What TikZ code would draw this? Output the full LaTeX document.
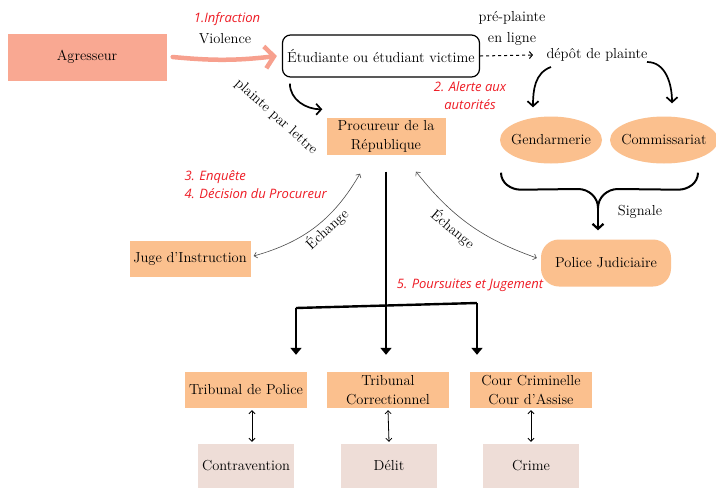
\documentclass[tikz,border=0pt]{standalone}
\usepackage{fontspec}
\newfontfamily\redfont{Open Sans}
\usetikzlibrary{arrows.meta,shapes.geometric,positioning,calc}
\definecolor{agrcol}{HTML}{F9A892}
\definecolor{orangebox}{HTML}{FBC08E}
\definecolor{pinkbox}{HTML}{EEDDD7}
\definecolor{redlabel}{HTML}{EE1C25}
\definecolor{salmonarrow}{HTML}{F7A08E}

\begin{document}
\begin{tikzpicture}[x=1pt,y=1pt,
  txt/.style={font=\fontsize{14.5}{19}\selectfont, align=center},
  redtxt/.style={font=\redfont\itshape\fontsize{13}{18}\selectfont, text=redlabel},
  orbox/.style={txt, fill=orangebox, inner sep=1pt, minimum height=37pt},
  pkbox/.style={txt, fill=pinkbox, minimum width=96pt, minimum height=44pt},
  oval/.style={txt, ellipse, fill=orangebox, inner xsep=-7pt, inner ysep=0pt, minimum height=47pt},
  thickarr/.style={line width=1.7pt, -{Straight Barb[length=5pt,width=11pt]}},
  courtarr/.style={line width=2.4pt, -{Triangle[length=7pt,width=11pt]}},
  echarr/.style={draw=black!70, line width=0.6pt, {Straight Barb[length=3pt,width=6pt]}-{Straight Barb[length=3pt,width=6pt]}},
  linkarr/.style={line width=0.8pt, {Straight Barb[length=3pt,width=6pt]}-{Straight Barb[length=3pt,width=6pt]}}]
  \useasboundingbox[fill=white] (0,0) rectangle (716,-488);

  % actors
  \node[txt, fill=agrcol, minimum width=159pt, minimum height=47pt] (agr) at (87,-57) {Agresseur};
  \node[txt, draw, line width=1.2pt, rounded corners=8pt, inner xsep=3pt, minimum width=197pt, minimum height=42pt] (vict) at (381,-56) {Étudiante ou étudiant victime};
  \node[txt] (depot) at (597,-55) {dépôt de plainte};
  \node[orbox, minimum width=119pt] (proc) at (386,-136) {Procureur de la\\République};
  \node[oval, minimum width=102pt] (gend) at (551,-140) {Gendarmerie};
  \node[oval, minimum width=108pt] (comm) at (664,-140) {Commissariat};
  \node[txt, fill=orangebox, rounded corners=18pt, minimum width=130pt, minimum height=47pt] (pj) at (606,-263) {Police Judiciaire};
  \node[orbox, minimum width=121pt, minimum height=36pt] (juge) at (190,-259) {Juge d'Instruction};

  % tribunaux
  \node[orbox, minimum width=122pt, minimum height=36pt] (tpol) at (246,-390) {Tribunal de Police};
  \node[orbox, minimum width=122pt, minimum height=36pt] (tcor) at (388,-390) {Tribunal\\Correctionnel};
  \node[orbox, minimum width=122pt, minimum height=36pt] (ccrim) at (531,-390) {Cour Criminelle\\Cour d'Assise};
  \node[pkbox] (contr) at (246,-466) {Contravention};
  \node[pkbox] (delit) at (389,-466) {Délit};
  \node[pkbox] (crime) at (531,-466) {Crime};

  % labels
  \node[redtxt] (inf) at (227,-19) {1.Infraction};
  \node[txt] (viol) at (225,-39) {Violence};
  \node[txt, font=\fontsize{14.5}{21}\selectfont] (pre) at (512,-28) {pré-plainte\\en ligne};
  \node[redtxt, align=center] (alerte) at (470,-96) {2. Alerte aux\\autorités};
  \node[txt, rotate=-42, inner sep=0pt] (lettre) at (276,-117) {plainte par lettre};
  \node[redtxt, align=left, anchor=west] (enq) at (181,-185) {3. Enquête\\4. Décision du Procureur};
  \node[redtxt] (pours) at (470,-285) {5. Poursuites et Jugement};
  \node[txt] (signale) at (640,-212) {Signale};
  \node[txt, rotate=43, inner sep=0pt] (ech1) at (327,-229) {Échange};
  \node[txt, rotate=-40, inner sep=0pt] (ech2) at (453,-229) {Échange};

  % connectors
  \draw[salmonarrow, line width=4.5pt, line cap=round, -{Straight Barb[length=9pt,width=22pt]}] ([xshift=6pt]agr.east) to[bend right=6] ([xshift=-5pt]vict.west);
  \draw[dashed, line width=1pt, -{Straight Barb[length=3pt,width=7pt]}] (vict.east) -- ([xshift=-10pt]depot.west);
  \draw[thickarr] ([xshift=8pt,yshift=-6pt]vict.south west) to[out=-90,in=180] ([xshift=-4pt,yshift=8pt]proc.north west);
  \draw[thickarr] ([xshift=8pt,yshift=-2pt]depot.south west) to[out=200,in=90] ([xshift=-18pt,yshift=9pt]gend.north);
  \draw[thickarr] ([xshift=-4pt,yshift=3pt]depot.south east) to[out=0,in=90] ([xshift=8pt,yshift=13pt]comm.north);

  \coordinate (brace) at (598,-208);
  \draw[line width=2pt] ([xshift=-50pt,yshift=-9pt]gend.south) to[out=-90,in=180] ++(20,-17) -- (578,-189) to[out=0,in=90] (brace);
  \draw[line width=2pt] ([xshift=34pt,yshift=-9pt]comm.south) to[out=-90,in=0] ++(-20,-17) -- (618,-189) to[out=180,in=90] (brace);
  \draw[thickarr, line width=2.2pt] (brace) -- ([xshift=-8pt,yshift=9pt]pj.north);

  \draw[echarr] ([xshift=3pt,yshift=3pt]juge.east) to[bend right=22] ([xshift=-26pt,yshift=-19pt]proc.south);
  \draw[echarr] ([xshift=30pt,yshift=-17pt]proc.south) to[bend right=16] ([xshift=-4pt,yshift=5pt]pj.west);

  \coordinate (barL) at (296,-308);
  \coordinate (barR) at (477,-303);
  \draw[courtarr] ([yshift=-17pt]proc.south) -- ($(proc.south |- tcor.north)+(0,17)$);
  \draw[courtarr, -] (barL) -- (barR);
  \draw[courtarr] (barL) -- ($(barL |- tpol.north)+(0,17)$);
  \draw[courtarr] (barR) -- ($(barR |- ccrim.north)+(0,17)$);

  \draw[linkarr] ([xshift=6pt,yshift=-2pt]tpol.south) -- ([xshift=6pt,yshift=2pt]contr.north);
  \draw[linkarr] ([yshift=-2pt]tcor.south) -- ([yshift=2pt]delit.north);
  \draw[linkarr] ([yshift=-2pt]ccrim.south) -- ([yshift=2pt]crime.north);
\end{tikzpicture}
\end{document}
